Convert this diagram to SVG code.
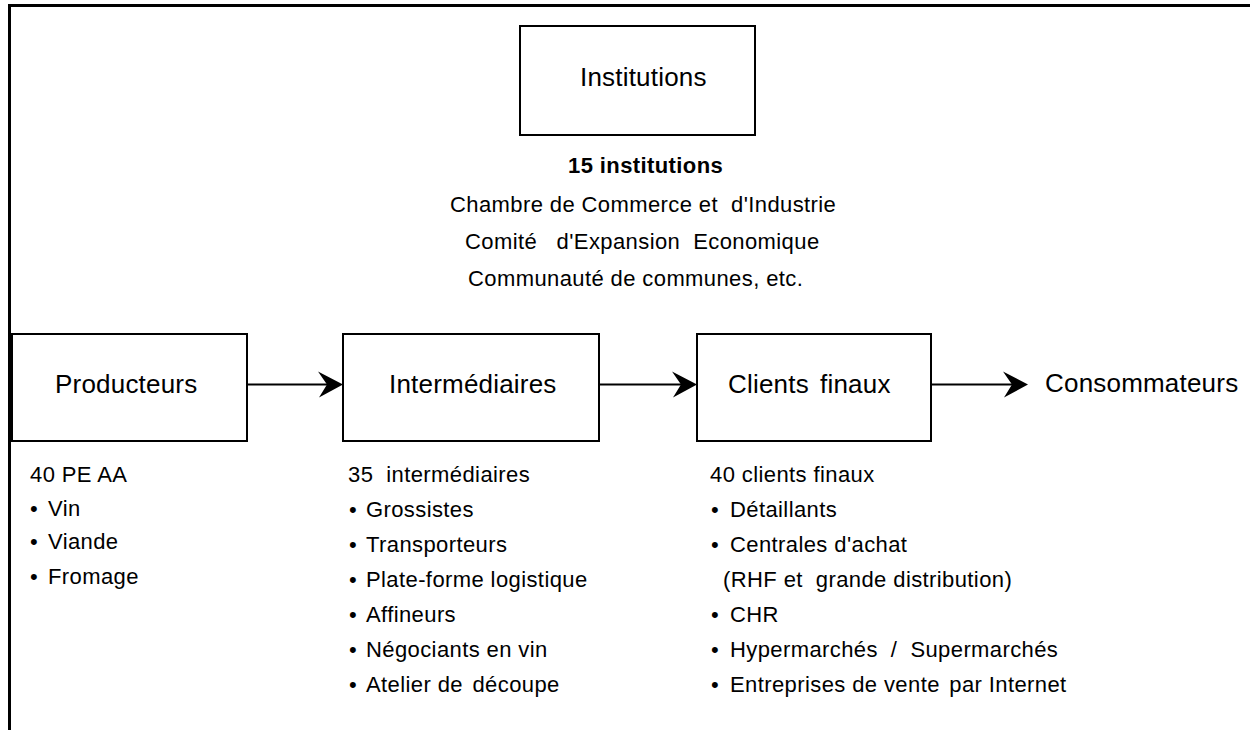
<svg xmlns="http://www.w3.org/2000/svg" width="1250" height="730" viewBox="0 0 1250 730">
<style>
text { font-family: "Liberation Sans", Arial, sans-serif; fill: #000; }
.box { fill: #fff; stroke: #000; stroke-width: 2; }
.big { font-size: 26px; letter-spacing: 0.2px; }
.sm { font-size: 22px; letter-spacing: 0.4px; }
.b { font-weight: bold; }
.conn { stroke: #000; stroke-width: 2; fill: none; marker-end: url(#arrow); }
.frame { stroke: #000; stroke-width: 3; fill: none; }
</style>
<defs>
<marker id="arrow" viewBox="-26 -14 28 28" refX="-10" refY="0" markerWidth="28" markerHeight="28" markerUnits="userSpaceOnUse" orient="auto">
<path d="M0,0 L-25,-13 L-16,0 L-24,13 Z" fill="#000"/>
</marker>
</defs>
<rect width="1250" height="730" fill="#fff"/>
<g id="frame">
<path class="frame" d="M9.5,730 V5.5 H1250"/>
</g>
<g id="connectors">
<line class="conn" x1="247" y1="384.5" x2="333" y2="384.5"/>
<line class="conn" x1="599" y1="384.5" x2="687" y2="384.5"/>
<line class="conn" x1="931" y1="384.5" x2="1018" y2="384.5"/>
</g>
<g id="node-institutions">
<rect class="box" x="520" y="26" width="235" height="109"/>
<text class="big" x="580" y="86">Institutions</text>
</g>
<g id="institutions-details">
<text class="sm b" x="568" y="173">15 institutions</text>
<text class="sm" x="450" y="212" xml:space="preserve">Chambre de Commerce et  d'Industrie</text>
<text class="sm" x="465" y="249" xml:space="preserve">Comité   d'Expansion  Economique</text>
<text class="sm" x="468" y="286">Communauté de communes, etc.</text>
</g>
<g id="node-producteurs">
<rect class="box" x="12" y="334" width="235" height="107"/>
<text class="big" x="55" y="393">Producteurs</text>
</g>
<g id="node-intermediaires">
<rect class="box" x="343" y="334" width="256" height="107"/>
<text class="big" x="389" y="393">Intermédiaires</text>
</g>
<g id="node-clients">
<rect class="box" x="697" y="334" width="234" height="107"/>
<text class="big" x="728" y="393">Clients<tspan x="820">finaux</tspan></text>
</g>
<g id="node-consommateurs">
<text class="big" x="1045" y="392">Consommateurs</text>
</g>
<g id="list-producteurs">
<text class="sm" x="30" y="482">40 PE AA</text>
<text class="sm" y="515.5"><tspan x="30">•</tspan><tspan x="48">Vin</tspan></text>
<text class="sm" y="549"><tspan x="30">•</tspan><tspan x="48">Viande</tspan></text>
<text class="sm" y="583.5"><tspan x="30">•</tspan><tspan x="48">Fromage</tspan></text>
</g>
<g id="list-intermediaires">
<text class="sm" x="348" y="482" xml:space="preserve">35  intermédiaires</text>
<text class="sm" y="517"><tspan x="349">•</tspan><tspan x="366">Grossistes</tspan></text>
<text class="sm" y="552"><tspan x="349">•</tspan><tspan x="366">Transporteurs</tspan></text>
<text class="sm" y="587"><tspan x="349">•</tspan><tspan x="366">Plate-forme logistique</tspan></text>
<text class="sm" y="622"><tspan x="349">•</tspan><tspan x="366">Affineurs</tspan></text>
<text class="sm" y="657"><tspan x="349">•</tspan><tspan x="366">Négociants en vin</tspan></text>
<text class="sm" y="692"><tspan x="349">•</tspan><tspan x="366">Atelier de <tspan dx="3">découpe</tspan></tspan></text>
</g>
<g id="list-clients">
<text class="sm" x="710" y="482">40 clients finaux</text>
<text class="sm" y="517"><tspan x="711">•</tspan><tspan x="730">Détaillants</tspan></text>
<text class="sm" y="552"><tspan x="711">•</tspan><tspan x="730">Centrales d'achat</tspan></text>
<text class="sm" x="723" y="587" xml:space="preserve">(RHF et  grande distribution)</text>
<text class="sm" y="622"><tspan x="711">•</tspan><tspan x="730">CHR</tspan></text>
<text class="sm" y="657" xml:space="preserve"><tspan x="711">•</tspan><tspan x="730">Hypermarchés  /  Supermarchés</tspan></text>
<text class="sm" y="692"><tspan x="711">•</tspan><tspan x="730">Entreprises de vente <tspan dx="3">par Internet</tspan></tspan></text>
</g>
</svg>
